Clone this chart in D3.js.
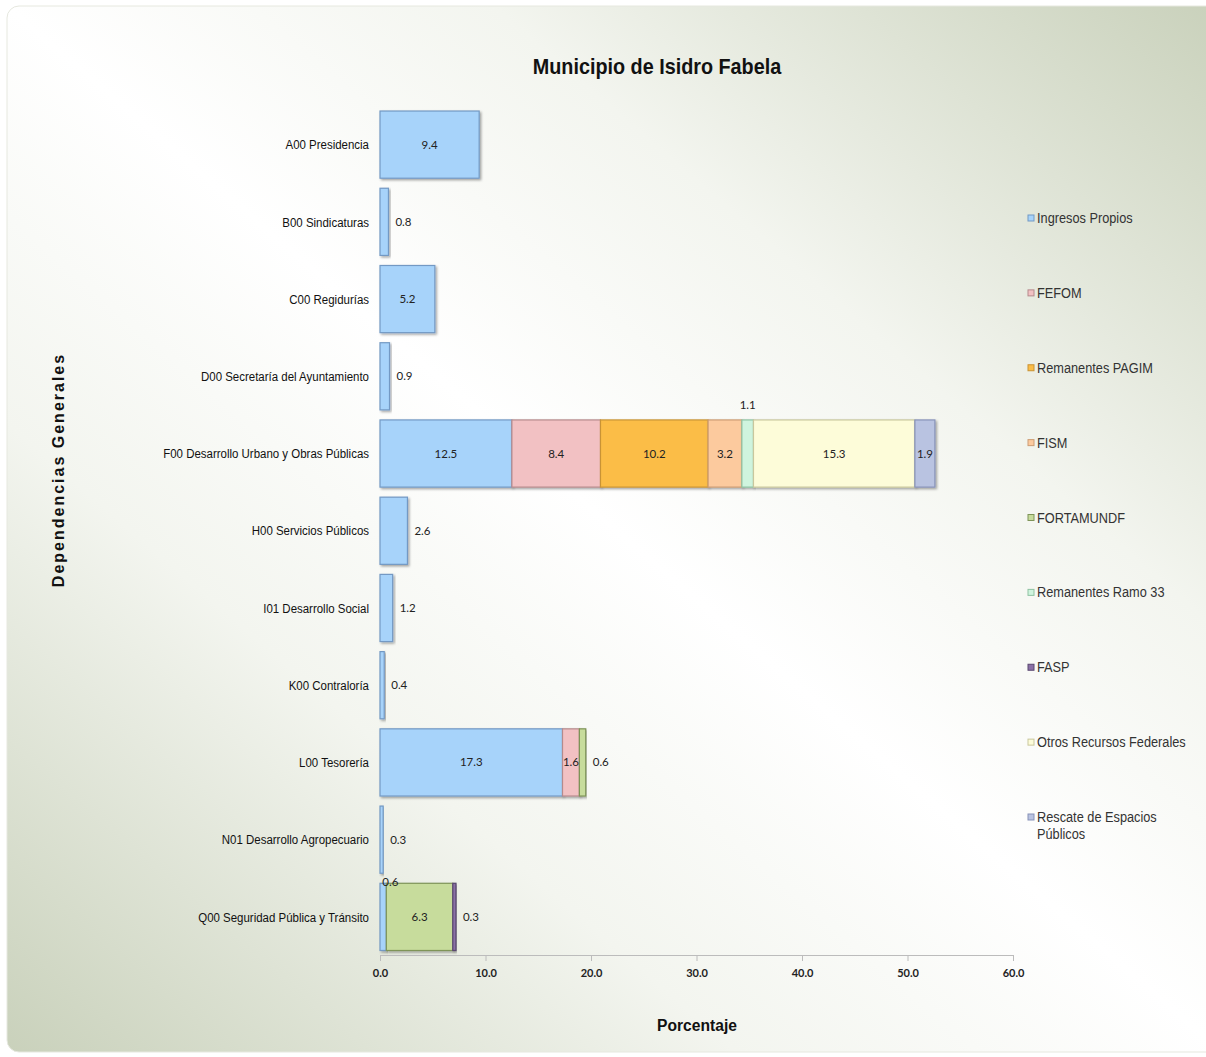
<!DOCTYPE html>
<html><head><meta charset="utf-8">
<script src="https://cdn.jsdelivr.net/npm/d3@7"></script>
<style>
body{margin:0;background:#fff;}
svg{display:block;}
</style></head>
<body>
<svg id="chart" width="1206" height="1057"></svg>
<script>
const categories = ["A00 Presidencia","B00 Sindicaturas","C00 Regidurías","D00 Secretaría del Ayuntamiento","F00 Desarrollo Urbano y Obras Públicas","H00 Servicios Públicos","I01 Desarrollo Social","K00 Contraloría","L00 Tesorería","N01 Desarrollo Agropecuario","Q00 Seguridad Pública y Tránsito"];
const seriesNames = ["Ingresos Propios","FEFOM","Remanentes PAGIM","FISM","FORTAMUNDF","Remanentes Ramo 33","FASP","Otros Recursos Federales","Rescate de Espacios Públicos"];
const ingresosPropios   = [9.4,0.8,5.2,0.9,12.5,2.6,1.2,0.4,17.3,0.3,0.6];
const fefom             = [0,0,0,0,8.4,0,0,0,1.6,0,0];
const remanentesPagim   = [0,0,0,0,10.2,0,0,0,0,0,0];
const fism              = [0,0,0,0,3.2,0,0,0,0,0,0];
const fortamundf        = [0,0,0,0,0,0,0,0,0.6,0,6.3];
const remanentesRamo33  = [0,0,0,0,1.1,0,0,0,0,0,0];
const fasp              = [0,0,0,0,0,0,0,0,0,0,0.3];
const otrosFederales    = [0,0,0,0,15.3,0,0,0,0,0,0];
const rescateEspacios   = [0,0,0,0,1.9,0,0,0,0,0,0];
const tickValues = [0,10,20,30,40,50,60];

const seriesValues = [ingresosPropios,fefom,remanentesPagim,fism,fortamundf,remanentesRamo33,fasp,otrosFederales,rescateEspacios];
const fills   = ["#a7d3fa","#f2c1c3","#fbbd47","#fcca9e","#c7dc9c","#cff4de","#8a70a6","#fdfcd9","#b9c3e1"];
const strokes = ["#7399c4","#b58a8c","#c99335","#cc9c74","#7f9458","#8fc2a2","#5a4870","#c9c79d","#8792b8"];

const svg = d3.select("#chart");
const W = 1206, H = 1057;
const defs = svg.append("defs");
const bg = defs.append("linearGradient").attr("id","bg").attr("x1","1").attr("y1","0").attr("x2","0").attr("y2","1");
bg.append("stop").attr("offset","0").attr("stop-color","#c9d1bb");
bg.append("stop").attr("offset","0.3").attr("stop-color","#f3f5ef");
bg.append("stop").attr("offset","0.5").attr("stop-color","#ffffff");
bg.append("stop").attr("offset","0.7").attr("stop-color","#f3f5ef");
bg.append("stop").attr("offset","1").attr("stop-color","#c9d1bb");
const sh = defs.append("filter").attr("id","sh").attr("x","-10%").attr("y","-10%").attr("width","130%").attr("height","130%");
sh.append("feDropShadow").attr("dx",1.5).attr("dy",1.5).attr("stdDeviation",0.8).attr("flood-color","#000").attr("flood-opacity",0.35);

svg.append("rect").attr("x",7).attr("y",6).attr("width",W+10).attr("height",1046).attr("rx",12)
  .attr("fill","url(#bg)").attr("stroke","#e6e8df").attr("stroke-width",1);

const x = d3.scaleLinear().domain([0,60]).range([380,1013]);
const y = d3.scaleBand().domain(categories).range([106,955.5]).paddingInner(0.13).paddingOuter(0.065);

const table = categories.map((c,i)=>{ const o={cat:c}; seriesNames.forEach((s,j)=>o[s]=seriesValues[j][i]); return o; });
const stacked = d3.stack().keys(seriesNames)(table);

const g = svg.append("g");
stacked.forEach((layer,j)=>{
  g.append("g").selectAll("rect").data(layer.filter(d=>d[1]-d[0]>0)).join("rect")
    .attr("x",d=>x(d[0])).attr("y",d=>y(d.data.cat))
    .attr("width",d=>x(d[1])-x(d[0])).attr("height",y.bandwidth())
    .attr("fill",fills[j]).attr("stroke",strokes[j]).attr("stroke-width",1.2)
    .attr("filter","url(#sh)");
});

const narrow = "'Liberation Sans','Arial',sans-serif";
function ctext(parent, px, py, sx, txt){
  const gg = parent.append("g").attr("transform",`translate(${px},${py}) scale(${sx},1)`);
  return gg.append("text").attr("x",0).attr("y",0).text(txt);
}

// data labels
const labelStyle = {
  "F00 Desarrollo Urbano y Obras Públicas|Remanentes Ramo 33": "above",
  "F00 Desarrollo Urbano y Obras Públicas|Rescate de Espacios Públicos": "center",
  "L00 Tesorería|FEFOM": "center",
  "Q00 Seguridad Pública y Tránsito|Ingresos Propios": "aboveLeft"
};
const lbl = svg.append("g").attr("font-family","Lato, 'Open Sans', sans-serif").attr("font-size",11.5).attr("fill","#222");
stacked.forEach((layer,j)=>{
  layer.forEach(d=>{
    const v = d[1]-d[0]; if(v<=0) return;
    const key = d.data.cat+"|"+seriesNames[j];
    const w = x(d[1])-x(d[0]);
    const cy = y(d.data.cat)+y.bandwidth()/2;
    let mode = labelStyle[key] || (w>28 ? "center" : "right");
    let tx, ty=cy, anchor="middle";
    if(mode==="center"){ tx = (x(d[0])+x(d[1]))/2; }
    else if(mode==="right"){ tx = x(d[1])+7; anchor="start"; }
    else if(mode==="above"){ tx = (x(d[0])+x(d[1]))/2; ty = y(d.data.cat)-15; }
    else if(mode==="aboveLeft"){ tx = x(d[1])-4; ty = y(d.data.cat)-1; anchor="start"; }
    lbl.append("text").attr("x",tx).attr("y",ty).attr("dy","0.35em").attr("text-anchor",anchor).text(v.toFixed(1));
  });
});

// category labels
const cg = svg.append("g").attr("font-family",narrow).attr("font-size",13.5).attr("fill","#111");
categories.forEach(c=>{
  ctext(cg, 369, y(c)+y.bandwidth()/2, 0.85, c).attr("dy","0.35em").attr("text-anchor","end");
});

// x axis
const ax = svg.append("g").attr("transform","translate(0,955)")
  .call(d3.axisBottom(x).tickValues(tickValues).tickFormat(d3.format(".1f")).tickSizeInner(6).tickSizeOuter(0).tickPadding(8));
ax.select(".domain").attr("stroke","#bcbcbc");
ax.selectAll(".tick line").attr("stroke","#bcbcbc");
ax.selectAll(".tick text").attr("font-family","Lato, sans-serif").attr("font-weight","bold").attr("font-size",11).attr("fill","#222");

// titles
const tg = svg.append("g").attr("font-family",narrow).attr("font-weight","bold").attr("fill","#111");
ctext(tg, 657, 74, 0.9, "Municipio de Isidro Fabela").attr("text-anchor","middle").attr("font-size",22);
ctext(tg, 697, 1031, 0.92, "Porcentaje").attr("text-anchor","middle").attr("font-size",17);
svg.append("text").attr("transform","translate(64,470) rotate(-90)").attr("text-anchor","middle")
  .attr("font-family","'Liberation Sans','Arial',sans-serif").attr("font-weight","bold").attr("font-size",16).attr("letter-spacing",2).attr("fill","#111")
  .text("Dependencias Generales");

// legend
const legendY = d3.scalePoint().domain(seriesNames).range([218,817]);
const lg = svg.append("g").attr("font-family",narrow).attr("font-size",14.5).attr("fill","#333");
seriesNames.forEach((s,j)=>{
  const yy = legendY(s);
  lg.append("rect").attr("x",1028).attr("y",yy-3).attr("width",6).attr("height",6)
    .attr("fill",fills[j]).attr("stroke",strokes[j]).attr("stroke-width",1);
  if(s==="Rescate de Espacios Públicos"){
    ctext(lg, 1037, yy, 0.88, "Rescate de Espacios").attr("dy","0.35em");
    ctext(lg, 1037, yy+17, 0.88, "Públicos").attr("dy","0.35em");
  } else ctext(lg, 1037, yy, 0.88, s).attr("dy","0.35em");
});
</script>
</body></html>
